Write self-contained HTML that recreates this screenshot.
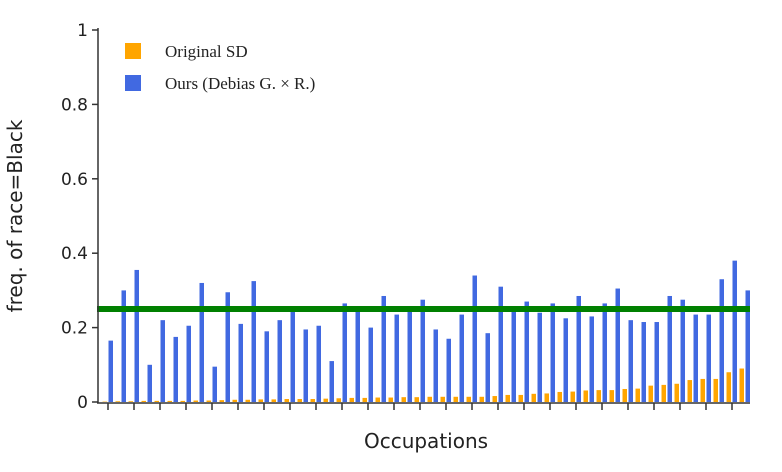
<!DOCTYPE html>
<html><head><meta charset="utf-8"><style>
body{margin:0;background:#fff;}
svg text{font-family:"DejaVu Sans","Liberation Sans",sans-serif;fill:#222;}
</style></head><body>
<svg width="782" height="467">
<g id="marks"></g>
<g id="axes"></g>
<g>
<rect x="125" y="43" width="16" height="16" fill="#ffa500"/>
<text x="165" y="57" style="font-family:'Liberation Serif',serif;font-size:17px">Original SD</text>
<rect x="125" y="75" width="16" height="16" fill="#4169e1"/>
<text x="165" y="89" style="font-family:'Liberation Serif',serif;font-size:17px">Ours (Debias G. × R.)</text>
</g>
<text x="426" y="448" text-anchor="middle" font-size="20">Occupations</text>
<text transform="translate(22,216) rotate(-90)" text-anchor="middle" font-size="20">freq. of race=Black</text>
</svg>
<script>
const ours=[.165,.30,.355,.10,.22,.175,.205,.32,.095,.295,.21,.325,.19,.22,.25,.195,.205,.11,.265,.25,.20,.285,.235,.25,.275,.195,.17,.235,.34,.185,.31,.25,.27,.24,.265,.225,.285,.23,.265,.305,.22,.215,.215,.285,.275,.235,.235,.33,.38,.30];
const original=[.001,.002,.002,.003,.003,.003,.003,.004,.004,.005,.006,.006,.007,.007,.008,.008,.008,.009,.010,.011,.011,.012,.012,.013,.013,.014,.014,.014,.014,.014,.016,.019,.019,.022,.023,.027,.028,.031,.032,.032,.035,.036,.044,.046,.049,.059,.062,.062,.080,.090];
const yTicks=[0,0.2,0.4,0.6,0.8,1];
const yTickLabels=["0","0.2","0.4","0.6","0.8","1"];
const baseline=0.25;
const NS="http://www.w3.org/2000/svg";
const y=v=>402-v*372;
const x=i=>108+13*i;
function mk(t,a,p){const e=document.createElementNS(NS,t);for(const k in a)e.setAttribute(k,a[k]);p.appendChild(e);return e;}
const marks=document.getElementById('marks'),axes=document.getElementById('axes');
ours.forEach((v,i)=>{
 const o=mk('rect',{x:x(i)-5.5,y:y(original[i]),width:4.5,height:402-y(original[i]),fill:'#ffa500'},marks);
 
 
 const b=mk('rect',{x:x(i)+0.5,y:y(v),width:4.5,height:402-y(v),fill:'#4169e1'},marks);
 
 
});
const g=mk('line',{x1:97,x2:750,y1:y(baseline),y2:y(baseline),stroke:'#008000','stroke-width':6},marks);


mk('line',{x1:98,x2:98,y1:28,y2:403,stroke:'#333','stroke-width':1.5},axes);
mk('line',{x1:97,x2:750,y1:403,y2:403,stroke:'#333','stroke-width':1.5},axes);
yTicks.forEach((v,i)=>{
 mk('line',{x1:92,x2:98,y1:y(v),y2:y(v),stroke:'#333','stroke-width':1.5},axes);
 const t=mk('text',{x:88,y:y(v)+6,'text-anchor':'end','font-size':17},axes);
 t.textContent=yTickLabels[i];
 
 
});
for(let i=0;i<ours.length;i+=2){mk('line',{x1:x(i),x2:x(i),y1:403,y2:410,stroke:'#333','stroke-width':1.5},axes);}
</script>
</body></html>
